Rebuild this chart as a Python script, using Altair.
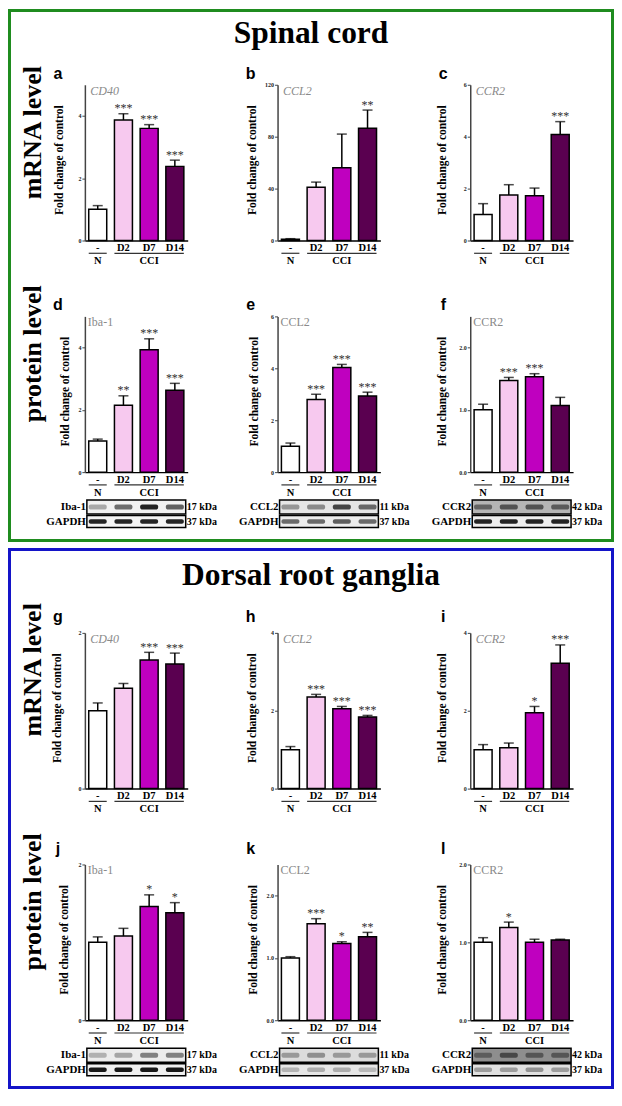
import altair as alt
import pandas as pd

# ---------------- data ----------------
conditions = ["-", "D2", "D7", "D14"]
group_labels = ["N", "CCI"]
bar_colors = ["#ffffff", "#f7c9ef", "#bf00bf", "#5a0050"]

panel_letters = ["a", "b", "c", "d", "e", "f", "g", "h", "i", "j", "k", "l"]
targets = ["CD40", "CCL2", "CCR2", "Iba-1", "CCL2", "CCR2",
           "CD40", "CCL2", "CCR2", "Iba-1", "CCL2", "CCR2"]
y_max = [5, 120, 6, 5, 6, 2.5, 2, 4, 4, 2, 2.5, 2.0]
y_step = [1, 20, 2, 1, 2, 0.5, 1, 2, 2, 1, 0.5, 0.5]

mean_a = [1.00, 3.87, 3.60, 2.38]; sem_a = [0.12, 0.20, 0.12, 0.20]; sig_a = ["", "***", "***", "***"]
mean_b = [1.0, 41.0, 56.0, 86.5]; sem_b = [0.4, 4.0, 26.0, 14.0]; sig_b = ["", "", "", "**"]
mean_c = [1.00, 1.75, 1.72, 4.08]; sem_c = [0.42, 0.40, 0.30, 0.50]; sig_c = ["", "", "", "***"]
mean_d = [1.00, 2.15, 3.93, 2.63]; sem_d = [0.06, 0.30, 0.35, 0.22]; sig_d = ["", "**", "***", "***"]
mean_e = [1.00, 2.80, 4.03, 2.93]; sem_e = [0.12, 0.20, 0.12, 0.15]; sig_e = ["", "***", "***", "***"]
mean_f = [1.00, 1.47, 1.53, 1.07]; sem_f = [0.09, 0.05, 0.05, 0.13]; sig_f = ["", "***", "***", ""]
mean_g = [1.00, 1.29, 1.65, 1.60]; sem_g = [0.10, 0.06, 0.10, 0.14]; sig_g = ["", "", "***", "***"]
mean_h = [1.00, 2.35, 2.05, 1.84]; sem_h = [0.08, 0.07, 0.06, 0.04]; sig_h = ["", "***", "***", "***"]
mean_i = [1.00, 1.05, 1.95, 3.22]; sem_i = [0.13, 0.12, 0.16, 0.47]; sig_i = ["", "", "*", "***"]
mean_j = [1.00, 1.08, 1.46, 1.38]; sem_j = [0.07, 0.10, 0.15, 0.13]; sig_j = ["", "", "*", "*"]
mean_k = [1.00, 1.55, 1.23, 1.34]; sem_k = [0.02, 0.08, 0.03, 0.07]; sig_k = ["", "***", "*", "**"]
mean_l = [1.00, 1.19, 1.00, 1.03]; sem_l = [0.06, 0.07, 0.04, 0.01]; sig_l = ["", "*", "", ""]

# western blot band intensities (0..1) per lane
blot_names = ["Iba-1", "CCL2", "CCR2", "Iba-1", "CCL2", "CCR2"]
blot_kda = ["17 kDa", "11 kDa", "42 kDa", "17 kDa", "11 kDa", "42 kDa"]
band_d = [0.30, 0.55, 0.85, 0.60]; gapdh_d = [0.85, 0.85, 0.85, 0.85]
band_e = [0.35, 0.40, 0.70, 0.55]; gapdh_e = [0.55, 0.55, 0.60, 0.55]
band_f = [0.45, 0.55, 0.55, 0.50]; gapdh_f = [0.85, 0.85, 0.85, 0.85]
band_j = [0.25, 0.30, 0.45, 0.45]; gapdh_j = [0.90, 0.90, 0.90, 0.90]
band_k = [0.30, 0.35, 0.30, 0.30]; gapdh_k = [0.22, 0.25, 0.25, 0.20]
band_l = [0.35, 0.50, 0.40, 0.40]; gapdh_l = [0.30, 0.30, 0.35, 0.30]
blot_bg = [("#f2f2f2", "#f4f4f4"), ("#e6e6e6", "#ececec"), ("#b5b5b5", "#eeeeee"),
           ("#ececec", "#f0f0f0"), ("#dcdcdc", "#e6e6e6"), ("#8e8e8e", "#e0e0e0")]

section_titles = ["Spinal cord", "Dorsal root ganglia"]
row_titles = ["mRNA level", "protein level"]
frame_colors = ["#1f8c1f", "#1414c8"]
y_title = "Fold change of control"

# ---------------- style ----------------
W, H = 103, 156
SERIF = "Liberation Serif"
SANS = "Liberation Sans"
title_x = [-25, -25, -27.5, -19.5, -23, -27.5, -27, -25.5, -27.5, -20.5, -24, -28]


def one(t):
    return pd.DataFrame({"t": [t]})


def text_layer(t, x, y, **kw):
    return alt.Chart(one(t)).mark_text(**kw).encode(
        x=alt.value(x), y=alt.value(y), text="t:N")


def make_panel(idx, means, sems, sigs, blot=None, extra=()):
    df = pd.DataFrame({"cond": conditions, "mean": means,
                       "top": [m + s for m, s in zip(means, sems)], "sig": sigs})
    n = int(round(y_max[idx] / y_step[idx]))
    ticks = [round(k * y_step[idx], 2) for k in range(n + 1)]
    fmt = ".1f" if y_step[idx] < 1 else "d"
    yaxis = alt.Axis(values=ticks, format=fmt, grid=False, tickSize=3, tickWidth=1,
                     tickColor="#444", domainColor="#444", domainWidth=1.5,
                     labelFont=SERIF, labelFontSize=6, labelFontWeight="bold",
                     labelColor="#222", labelPadding=1, labelOverlap=False,
                     labelBound=False, labelFlush=False,
                     title=y_title, titleFont=SERIF, titleFontSize=11.5,
                     titleFontWeight="bold", titleColor="black",
                     titleX=title_x[idx], titleY=H / 2 - 3, titleAngle=270,
                     titleAlign="center", titleBaseline="middle")
    xaxis = alt.Axis(title=None, ticks=False, tickSize=0, labelAngle=0,
                     labelFont=SERIF, labelFontSize=10.5, labelFontWeight="bold",
                     labelColor="black", labelPadding=2, labelOverlap=False,
                     domainColor="black", domainWidth=1.5)
    xscale = alt.Scale(domain=conditions, paddingInner=0.3, paddingOuter=0.15)
    base = alt.Chart(df)
    bars = base.mark_bar(stroke="black", strokeWidth=1.5).encode(
        x=alt.X("cond:N", sort=conditions, scale=xscale, axis=xaxis),
        y=alt.Y("mean:Q", scale=alt.Scale(domain=[0, y_max[idx]], nice=False), axis=yaxis),
        fill=alt.Fill("cond:N", scale=alt.Scale(domain=conditions, range=bar_colors), legend=None))
    xn = alt.X("cond:N", sort=conditions)
    err = base.mark_rule(color="black", strokeWidth=1.5).encode(
        x=xn, y=alt.Y("mean:Q"), y2="top:Q")
    cap = base.mark_tick(color="black", thickness=1.5, size=10, orient="horizontal").encode(
        x=xn, y=alt.Y("top:Q"))
    star = base.mark_text(font=SERIF, fontSize=12, color="#303030", baseline="alphabetic",
                          dy=-1.5).encode(x=xn, y=alt.Y("top:Q"), text="sig:N")

    gdf = pd.DataFrame({"g0": ["-", "D2"], "g1": ["-", "D14"], "mid": ["-", "D7"],
                        "lab": group_labels})
    gline = alt.Chart(gdf).mark_rule(color="#333", strokeWidth=1.2).encode(
        x=alt.X("g0:N", sort=conditions, bandPosition=0),
        x2=alt.X2("g1", bandPosition=1),
        y=alt.value(H + 12.8))
    gtext = alt.Chart(gdf).mark_text(font=SERIF, fontSize=10.5, fontWeight="bold",
                                     baseline="middle").encode(
        x=alt.X("mid:N", sort=conditions), y=alt.value(H + 20.5), text="lab:N")

    is_mrna = idx in (0, 1, 2, 6, 7, 8)
    letter_y = -6.2 if idx < 6 else -10.5
    letter = text_layer(panel_letters[idx], -27, letter_y, font=SANS, fontSize=16,
                        fontWeight="bold", align="center", baseline="alphabetic")
    gene = text_layer(targets[idx], 5.5 if is_mrna else 3, 10 if is_mrna else 9.5,
                      font=SERIF, fontSize=12, fontStyle="italic" if is_mrna else "normal",
                      color="#8a8a8a", align="left", baseline="alphabetic")

    layers = [bars, err, cap, star, gline, gtext, letter, gene]

    if blot is not None:
        name, kda, band, gapdh, bgs = blot
        rows = [(name, kda, band, bgs[0], H + 28, H + 42, 5.0),
                ("GAPDH", "37 kDa", gapdh, bgs[1], H + 43.5, H + 55.5, 4.5)]
        for lab, kd, vals, bg, y0, y1, bh in rows:
            yc = (y0 + y1) / 2
            frame = alt.Chart(one(lab)).mark_rect(fill=bg, stroke="black", strokeWidth=1.5).encode(
                x=alt.value(2), x2=alt.value(W - 2), y=alt.value(y0), y2=alt.value(y1))
            ldf = pd.DataFrame({"cond": conditions, "v": vals})
            lanes = alt.Chart(ldf).mark_bar(color="black", cornerRadius=2).encode(
                x=alt.X("cond:N", sort=conditions),
                y=alt.value(yc - bh / 2), y2=alt.value(yc + bh / 2),
                opacity=alt.Opacity("v:Q", scale=None, legend=None))
            lt = text_layer(lab, 1, yc, font=SERIF, fontSize=11, fontWeight="bold",
                            align="right", baseline="middle")
            rt = text_layer(kd, W - 1, yc, font=SERIF, fontSize=10, fontWeight="bold",
                            align="left", baseline="middle")
            layers += [frame, lanes, lt, rt]

    layers += list(extra)
    return alt.layer(*layers).properties(width=W, height=H)


def frame_rect(color, y_top, y_bot):
    return alt.Chart(one("frame")).mark_rect(fillOpacity=0, stroke=color, strokeWidth=3).encode(
        x=alt.value(-75.5), x2=alt.value(528.5), y=alt.value(y_top), y2=alt.value(y_bot))


def big_title(t, y):
    return text_layer(t, 226.5, y, font=SERIF, fontSize=31.5, fontWeight="bold",
                      align="center", baseline="middle", color="black")


def row_label(t, y):
    return text_layer(t, -51.5, y, font=SERIF, fontSize=26, fontWeight="bold",
                      angle=270, align="center", baseline="middle", color="black")


def spacer():
    return alt.Chart(one("")).mark_text().encode(
        x=alt.value(0), y=alt.value(0), text="t:N").properties(width=W, height=9)


pa = make_panel(0, mean_a, sem_a, sig_a, extra=[
    frame_rect(frame_colors[0], -74.5, 456.5),
    big_title(section_titles[0], -50.5),
    row_label(row_titles[0], 48)])
pb = make_panel(1, mean_b, sem_b, sig_b)
pc = make_panel(2, mean_c, sem_c, sig_c)
pd_ = make_panel(3, mean_d, sem_d, sig_d, blot=(blot_names[0], blot_kda[0], band_d, gapdh_d, blot_bg[0]),
                 extra=[row_label(row_titles[1], 37.5)])
pe = make_panel(4, mean_e, sem_e, sig_e, blot=(blot_names[1], blot_kda[1], band_e, gapdh_e, blot_bg[1]))
pf = make_panel(5, mean_f, sem_f, sig_f, blot=(blot_names[2], blot_kda[2], band_f, gapdh_f, blot_bg[2]))

pg = make_panel(6, mean_g, sem_g, sig_g, extra=[
    frame_rect(frame_colors[1], -83.5, 455.5),
    big_title(section_titles[1], -57.4),
    row_label(row_titles[0], 37)])
ph = make_panel(7, mean_h, sem_h, sig_h)
pi = make_panel(8, mean_i, sem_i, sig_i)
pj = make_panel(9, mean_j, sem_j, sig_j, blot=(blot_names[3], blot_kda[3], band_j, gapdh_j, blot_bg[3]),
                extra=[row_label(row_titles[1], 37.5)])
pk = make_panel(10, mean_k, sem_k, sig_k, blot=(blot_names[4], blot_kda[4], band_k, gapdh_k, blot_bg[4]))
pl = make_panel(11, mean_l, sem_l, sig_l, blot=(blot_names[5], blot_kda[5], band_l, gapdh_l, blot_bg[5]))

chart = alt.concat(
    pa, pb, pc,
    pd_, pe, pf,
    spacer(), spacer(), spacer(),
    pg, ph, pi,
    pj, pk, pl,
    columns=3, spacing={"row": 76, "column": 90}, bounds="flush",
).properties(padding=0).configure_view(stroke=None)

chart.save("out.html", embed_options={"renderer": "svg", "actions": False})
